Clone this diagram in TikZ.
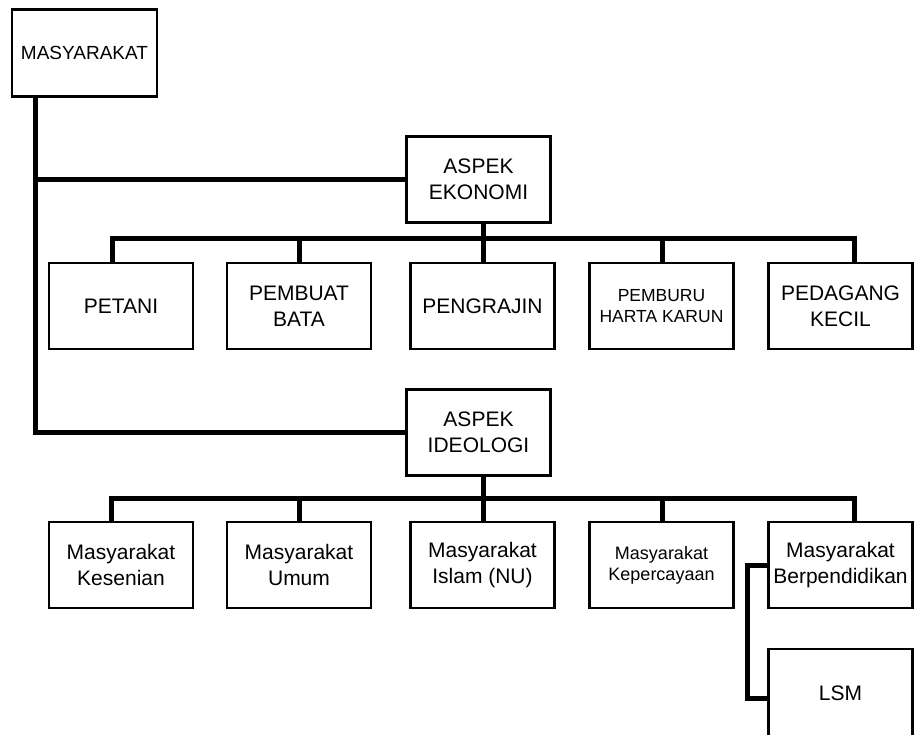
\documentclass[tikz,border=0pt]{standalone}
\usepackage{fontspec}
\setmainfont{Liberation Sans}
\begin{document}
\begin{tikzpicture}[x=1pt, y=-1pt,
  box/.style={draw=black, line width=2.4pt, rectangle, align=center,
    minimum width=144pt, minimum height=86pt, inner sep=0pt,
    font=\fontsize{21}{26}\selectfont},
  conn/.style={draw=black, line width=5pt, line join=miter}]
\useasboundingbox[fill=white] (0,0) rectangle (917,735);

% root and the two aspects
\node[box, minimum width=145pt, minimum height=87pt,
      font=\fontsize{19}{23}\selectfont] (m) at (84.5,53) {MASYARAKAT};
\node[box] (eko)  at (478.5,179.5) {ASPEK\\EKONOMI};
\node[box] (ideo) at (478.5,432.5) {ASPEK\\IDEOLOGI};

% economic groups
\node[box] (e1) at (121,306)   {PETANI};
\node[box] (e2) at (299,306)   {PEMBUAT\\BATA};
\node[box] (e3) at (482.5,306) {PENGRAJIN};
\node[box, font=\fontsize{17.5}{20.6}\selectfont] (e4) at (661.5,306) {PEMBURU\\HARTA KARUN};
\node[box] (e5) at (840.5,306) {PEDAGANG\\KECIL};

% ideological groups
\node[box] (i1) at (121,565)   {Masyarakat\\Kesenian};
\node[box] (i2) at (299,565)   {Masyarakat\\Umum};
\node[box] (i3) at (482.5,565) {Masyarakat\\Islam (NU)};
\node[box, font=\fontsize{18}{21}\selectfont] (i4) at (661.5,565) {Masyarakat\\Kepercayaan};
\node[box] (i5) at (840.5,565) {Masyarakat\\Berpendidikan};
\node[box, minimum height=88pt] (lsm) at (840.5,693) {LSM};

% trunk from the root to both aspects
\coordinate (tk) at (35,0);
\draw[conn] (m.south -| tk) |- (eko.west);
\draw[conn] (m.south -| tk) |- (ideo.west);

% economic bus
\coordinate (a1) at (112,238.5);
\coordinate (a2) at (299,238.5);
\coordinate (a3) at (483,238.5);
\coordinate (a4) at (662,238.5);
\coordinate (a5) at (854,238.5);
\draw[conn] (e1.north -| a1) -- (a1) -- (a5) -- (e5.north -| a5);
\draw[conn] (eko.south -| a3) -- (e3.north -| a3);
\draw[conn] (a2) -- (e2.north -| a2);
\draw[conn] (a4) -- (e4.north -| a4);

% ideological bus
\coordinate (b1) at (111,498);
\coordinate (b2) at (299,498);
\coordinate (b3) at (483,498);
\coordinate (b4) at (662,498);
\coordinate (b5) at (854,498);
\draw[conn] (i1.north -| b1) -- (b1) -- (b5) -- (i5.north -| b5);
\draw[conn] (ideo.south -| b3) -- (i3.north -| b3);
\draw[conn] (b2) -- (i2.north -| b2);
\draw[conn] (b4) -- (i4.north -| b4);

% educated community to LSM
\coordinate (lk) at (747,698);
\draw[conn] (i5.west) -| (lk) -- (lk -| lsm.west);
\end{tikzpicture}
\end{document}
